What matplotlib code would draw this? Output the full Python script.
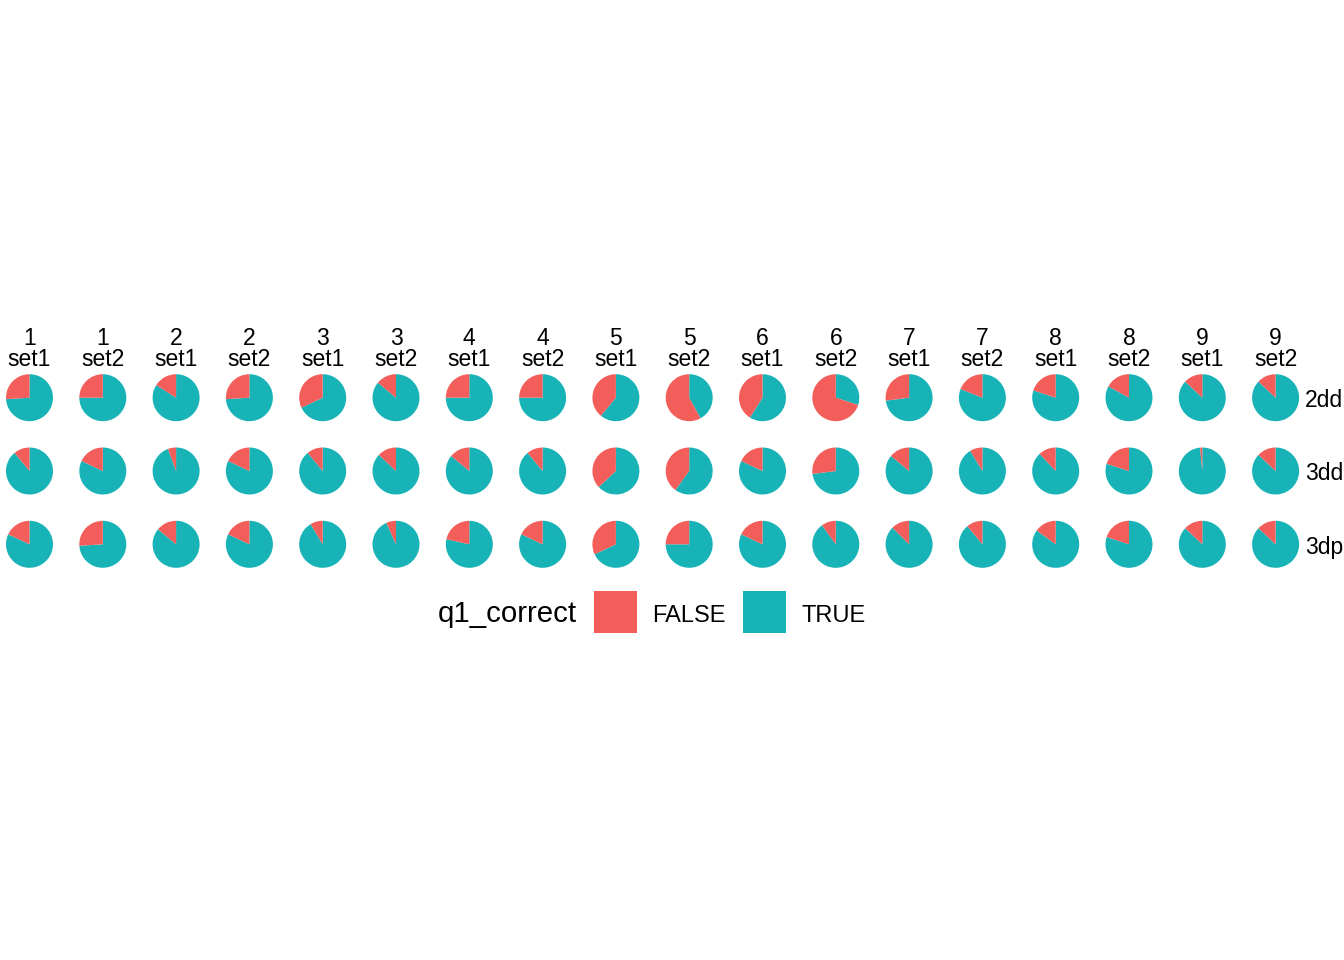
import matplotlib
matplotlib.use("Agg")
import matplotlib.pyplot as plt
from matplotlib.patches import Rectangle

plt.rcParams["font.family"] = ["Liberation Sans", "DejaVu Sans"]

# facet columns (question number / set) and rows (condition)
questions = ["1", "1", "2", "2", "3", "3", "4", "4", "5", "5",
             "6", "6", "7", "7", "8", "8", "9", "9"]
sets = ["set1", "set2"] * 9
conditions = ["2dd", "3dd", "3dp"]

# share of FALSE answers
false_2dd = [0.26, 0.25, 0.16, 0.26, 0.32, 0.14, 0.25, 0.25, 0.39, 0.58,
             0.41, 0.70, 0.27, 0.19, 0.20, 0.17, 0.13, 0.13]
false_3dd = [0.11, 0.18, 0.056, 0.18, 0.11, 0.13, 0.14, 0.11, 0.37, 0.40,
             0.18, 0.27, 0.14, 0.086, 0.12, 0.20, 0.015, 0.13]
false_3dp = [0.18, 0.26, 0.14, 0.18, 0.086, 0.067, 0.215, 0.18, 0.32, 0.25,
             0.18, 0.10, 0.125, 0.11, 0.15, 0.20, 0.13, 0.13]
false_rows = [false_2dd, false_3dd, false_3dp]

legend_labels = ["FALSE", "TRUE"]
colors = {"FALSE": "#F35E5A", "TRUE": "#17B3B7"}

W, H = 1344, 960
fig = plt.figure(figsize=(W / 100, H / 100), dpi=100)

x0, dx = 29.5, 73.3     # column centres (px)
y0, dy = 397.7, 73.3    # row centres (px)
d = 47                  # pie diameter (px)
fs = 16.5

for r, row in enumerate(false_rows):
    cy = y0 + r * dy
    for c, f in enumerate(row):
        cx = x0 + c * dx
        ax = fig.add_axes([(cx - d / 2) / W, 1 - (cy + d / 2) / H, d / W, d / H])
        ax.pie([1 - f, f], colors=[colors["TRUE"], colors["FALSE"]],
               startangle=90, counterclock=False, radius=1,
               wedgeprops=dict(linewidth=0))
        ax.set_xlim(-1, 1)
        ax.set_ylim(-1, 1)
        ax.set_aspect("equal")
        ax.axis("off")
    fig.text(1305 / W, 1 - (cy + 9.5) / H, conditions[r], fontsize=fs,
             ha="left", va="baseline")

for c in range(len(questions)):
    cx = x0 + c * dx
    fig.text(cx / W, 1 - 345 / H, questions[c], fontsize=fs,
             ha="center", va="baseline")
    fig.text(cx / W, 1 - 366.5 / H, sets[c], fontsize=fs,
             ha="center", va="baseline")

# legend
fig.text(438 / W, 1 - 622.5 / H, "q1_correct", fontsize=21.2,
         ha="left", va="baseline")
key_x = [594, 743]
text_x = [652.5, 801.5]
for lab, kx, tx in zip(legend_labels, key_x, text_x):
    fig.patches.append(Rectangle((kx / W, 1 - 633 / H), 42.5 / W, 42 / H,
                                 transform=fig.transFigure,
                                 facecolor=colors[lab], edgecolor="none"))
    fig.text(tx / W, 1 - 621.5 / H, lab, fontsize=17,
             ha="left", va="baseline")

fig.savefig("out.png", dpi=100, facecolor="white")
